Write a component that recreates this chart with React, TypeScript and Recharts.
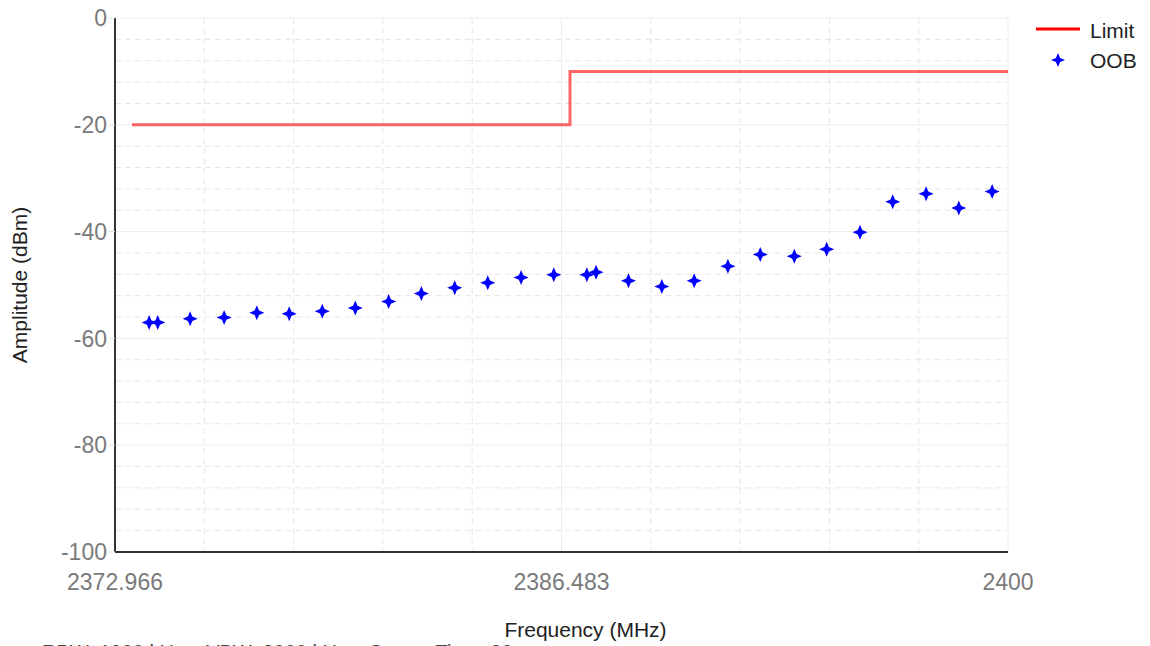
import { ComposedChart, Line, Scatter, XAxis, YAxis, CartesianGrid } from 'recharts';

const xTicks = [2372.966, 2386.483, 2400];
const xMinor = [2375.669, 2378.373, 2381.076, 2383.78, 2389.186, 2391.89, 2394.593, 2397.297];
const yTicks = [0, -20, -40, -60, -80, -100];
const yMinor = [-4, -8, -12, -16, -24, -28, -32, -36, -44, -48, -52, -56, -64, -68, -72, -76, -84, -88, -92, -96];

const limitFreq = [2373.48, 2386.74, 2386.74, 2400];
const limitLevel = [-20, -20, -10, -10];

const oobFreq = [
  2374.0, 2374.26, 2375.24, 2376.27, 2377.26, 2378.24, 2379.24, 2380.24, 2381.25, 2382.24,
  2383.25, 2384.25, 2385.26, 2386.25, 2387.25, 2387.53, 2388.51, 2389.52, 2390.5, 2391.52,
  2392.5, 2393.53, 2394.51, 2395.52, 2396.51, 2397.52, 2398.51, 2399.52,
];
const oobLevel = [
  -57.0, -57.0, -56.3, -56.1, -55.2, -55.4, -54.9, -54.3, -53.1, -51.6,
  -50.5, -49.6, -48.6, -48.1, -48.1, -47.6, -49.2, -50.3, -49.2, -46.5,
  -44.3, -44.6, -43.3, -40.1, -34.4, -32.9, -35.6, -32.5,
];

const limitData = limitFreq.map((f, i) => ({ freq: f, amp: limitLevel[i] }));
const oobData = oobFreq.map((f, i) => ({ freq: f, amp: oobLevel[i] }));

const starPath = (cx: number, cy: number, r: number) => {
  const s = r * 0.3;
  return `M${cx},${cy - r} L${cx + s},${cy - s} L${cx + r},${cy} L${cx + s},${cy + s} L${cx},${cy + r} L${cx - s},${cy + s} L${cx - r},${cy} L${cx - s},${cy - s} Z`;
};

const Star = (props: any) => {
  const { cx, cy } = props;
  if (cx == null || cy == null) return null;
  return <path d={starPath(cx, cy, 7.5)} fill="#0000ff" />;
};

const font = '"Liberation Sans", Arial, sans-serif';

function ChartLegend() {
  return (
    <svg width={120} height={80} style={{ fontFamily: font, display: 'block' }}>
      <line x1={6} y1={21} x2={50} y2={21} stroke="#ff0000" strokeWidth={3} />
      <text x={60} y={30} fontSize={21} fill="#222">Limit</text>
      <path d={starPath(28, 52, 7)} fill="#0000ff" />
      <text x={60} y={60} fontSize={21} fill="#222">OOB</text>
    </svg>
  );
}

export default function App() {
  return (
    <div style={{ position: 'relative', width: 1142, height: 638, overflow: 'hidden', fontFamily: font }}>
      <ComposedChart width={1142} height={638} margin={{ top: 10, right: 142, left: 47, bottom: 54 }}>
        <CartesianGrid
          stroke="#e6e6e6"
          strokeDasharray="6 4"
          horizontalValues={yMinor}
          verticalValues={xMinor}
        />
        <CartesianGrid stroke="#ececec" horizontalValues={yTicks} verticalValues={xTicks} />
        <XAxis
          dataKey="freq"
          type="number"
          domain={[2372.966, 2400]}
          ticks={xTicks}
          interval={0}
          allowDuplicatedCategory={false}
          tick={{ fill: '#7a7a7a', fontSize: 23, dy: 14 }}
          tickFormatter={(v: number) => String(v)}
          tickLine={false}
          axisLine={{ stroke: '#333', strokeWidth: 2 }}
          height={40}
          label={{ value: 'Frequency (MHz)', position: 'bottom', offset: 30, dx: 24, style: { fill: '#222', fontSize: 21 } }}
        />
        <YAxis
          dataKey="amp"
          type="number"
          domain={[-100, 0]}
          ticks={yTicks}
          interval={0}
          tick={{ fill: '#7a7a7a', fontSize: 23 }}
          tickLine={{ stroke: '#e0e0e0' }}
          tickSize={6}
          axisLine={{ stroke: '#333', strokeWidth: 2 }}
          width={60}
          label={{ value: 'Amplitude (dBm)', angle: -90, position: 'left', offset: 35, style: { fill: '#222', fontSize: 21, textAnchor: 'middle' } }}
        />
        <Line
          data={limitData}
          dataKey="amp"
          name="Limit"
          type="linear"
          stroke="#ff0000"
          strokeOpacity={0.6}
          strokeWidth={3}
          dot={false}
          activeDot={false}
          isAnimationActive={false}
        />
        <Scatter
          data={oobData}
          dataKey="amp"
          name="OOB"
          shape={<Star />}
          isAnimationActive={false}
        />
      </ComposedChart>
      <div style={{ position: 'absolute', left: 1022, top: 0 }}>
        <ChartLegend />
      </div>
      <div style={{ position: 'absolute', left: 34, top: 633, fontSize: 20, color: '#444', whiteSpace: 'pre' }}>
        RBW: 1000 kHz    VBW: 3000 kHz    Sweep Time: 20 ms
      </div>
    </div>
  );
}
